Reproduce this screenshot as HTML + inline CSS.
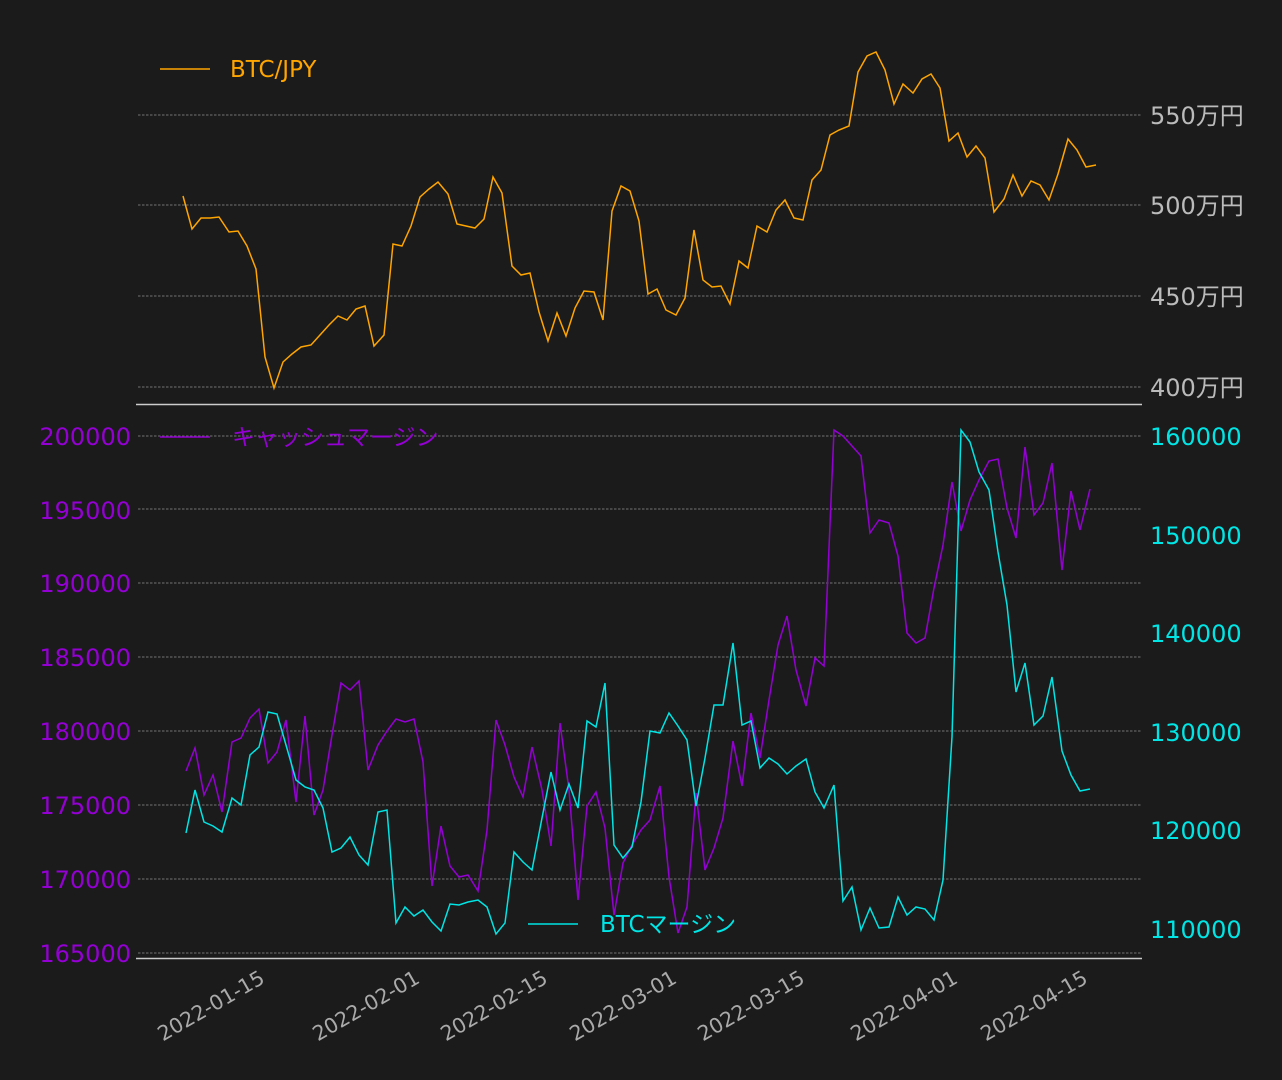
<!DOCTYPE html>
<html><head><meta charset="utf-8"><style>
html,body{margin:0;padding:0;background:#1b1b1b;}
svg{display:block;}
text{font-family:"DejaVu Sans","Noto Sans CJK JP",sans-serif;}
</style></head><body>
<svg width="1282" height="1080" viewBox="0 0 1282 1080" xmlns="http://www.w3.org/2000/svg">
<rect width="1282" height="1080" fill="#1b1b1b"/>
<g stroke="#cccccc" stroke-width="0.6" stroke-dasharray="2.5,1.5">
<line x1="138" y1="115" x2="1142" y2="115"/>
<line x1="138" y1="205" x2="1142" y2="205"/>
<line x1="138" y1="296" x2="1142" y2="296"/>
<line x1="138" y1="387" x2="1142" y2="387"/>
<line x1="138" y1="436" x2="1142" y2="436"/>
<line x1="138" y1="509" x2="1142" y2="509"/>
<line x1="138" y1="583" x2="1142" y2="583"/>
<line x1="138" y1="657" x2="1142" y2="657"/>
<line x1="138" y1="731" x2="1142" y2="731"/>
<line x1="138" y1="805" x2="1142" y2="805"/>
<line x1="138" y1="879" x2="1142" y2="879"/>
<line x1="138" y1="953" x2="1142" y2="953"/>
</g>
<line x1="136" y1="404.5" x2="1142" y2="404.5" stroke="#cccccc" stroke-width="1.5"/>
<line x1="136" y1="958.5" x2="1142" y2="958.5" stroke="#cccccc" stroke-width="1.5"/>
<g fill="#bbbbbb" font-size="24">
<text x="1150" y="124">550万円</text>
<text x="1150" y="214">500万円</text>
<text x="1150" y="305">450万円</text>
<text x="1150" y="396">400万円</text>
</g>
<g fill="#9400d3" font-size="24" text-anchor="end">
<text x="131" y="445">200000</text>
<text x="131" y="519">195000</text>
<text x="131" y="592">190000</text>
<text x="131" y="666">185000</text>
<text x="131" y="740">180000</text>
<text x="131" y="814">175000</text>
<text x="131" y="888">170000</text>
<text x="131" y="962">165000</text>
</g>
<g fill="#00e5e5" font-size="24">
<text x="1150" y="445">160000</text>
<text x="1150" y="544">150000</text>
<text x="1150" y="642">140000</text>
<text x="1150" y="741">130000</text>
<text x="1150" y="839">120000</text>
<text x="1150" y="938">110000</text>
</g>
<g fill="#aaaaaa" font-size="20.5" text-anchor="end">
<text transform="translate(266,982) rotate(-30)">2022-01-15</text>
<text transform="translate(421,982) rotate(-30)">2022-02-01</text>
<text transform="translate(549,982) rotate(-30)">2022-02-15</text>
<text transform="translate(678,982) rotate(-30)">2022-03-01</text>
<text transform="translate(806,982) rotate(-30)">2022-03-15</text>
<text transform="translate(959,982) rotate(-30)">2022-04-01</text>
<text transform="translate(1089,982) rotate(-30)">2022-04-15</text>
</g>
<polyline fill="none" stroke="#ffa500" stroke-width="1.5" points="183,196 192,229 201,218 210,218 219,217 229,232 238,231 247,246 256,269 265,357 274,388 283,362 292,354 301,347 311,345 320,335 329,325 338,316 347,320 356,309 365,306 374,346 384,335 393,244 402,246 411,226 420,197 429,189 438,182 448,194 457,224 466,226 475,228 484,219 493,177 502,193 512,266 521,275 530,273 539,312 548,341 557,313 566,336 575,308 584,291 594,292 603,320 612,211 621,186 630,191 639,221 648,294 657,289 666,310 676,315 685,298 694,230 703,280 712,287 721,286 730,304 739,261 748,268 757,226 767,232 776,210 785,200 794,218 803,220 812,180 821,170 830,135 839,130 849,126 858,72 867,56 876,52 885,70 894,104 903,84 913,93 922,79 931,74 940,88 949,141 958,133 967,157 976,146 985,158 994,212 1004,199 1013,175 1022,196 1031,181 1040,185 1049,200 1058,174 1068,139 1077,150 1086,167 1096,165"/>
<polyline fill="none" stroke="#9400d3" stroke-width="1.5" points="186,771 195,748 204,795 213,775 222,812 232,742 241,738 250,718 259,709 268,763 277,752 286,720 296,802 305,716 314,815 323,790 332,735 341,683 350,690 359,681 368,770 378,745 387,731 396,719 405,722 414,719 423,762 432,886 441,826 450,866 459,877 468,875 478,891 487,830 496,720 505,745 514,777 523,797 532,747 542,790 551,846 560,723 569,790 578,900 587,806 596,792 605,828 614,915 623,863 632,845 641,830 650,820 660,786 669,877 678,933 687,907 696,793 705,870 714,848 723,818 733,741 742,786 751,713 760,758 769,700 778,645 787,616 796,670 806,706 815,658 824,666 834,430 843,436 852,446 861,456 870,533 879,520 889,523 898,556 907,633 916,643 925,638 934,588 943,545 952,482 961,531 970,500 979,480 989,461 998,459 1007,508 1016,538 1025,447 1034,515 1043,503 1052,463 1062,570 1071,491 1080,530 1090,489"/>
<polyline fill="none" stroke="#00e5e5" stroke-width="1.5" points="186,833 195,790 204,822 213,826 222,832 232,798 241,805 250,755 259,747 268,712 277,714 286,745 296,780 305,787 314,790 323,808 332,852 341,848 350,837 359,855 368,865 378,812 387,810 396,923 405,907 414,916 423,910 432,922 441,931 450,904 459,905 468,902 478,900 487,907 496,934 505,923 514,852 523,862 532,870 542,818 551,772 560,810 569,784 578,808 587,721 596,727 605,683 614,845 623,858 632,847 641,802 650,731 660,733 669,713 678,726 687,740 696,806 705,758 714,705 723,705 733,643 742,725 751,721 760,768 769,758 778,764 787,774 796,766 806,759 815,792 824,808 834,785 843,901 852,887 861,930 870,908 879,928 889,927 898,897 907,915 916,907 925,909 934,920 943,880 952,737 961,430 970,442 979,472 989,490 998,552 1007,605 1016,692 1025,663 1034,725 1043,716 1052,677 1062,751 1071,775 1080,791 1090,789"/>
<line x1="160" y1="69" x2="210" y2="69" stroke="#ffa500" stroke-width="1.5"/>
<text x="230" y="77" fill="#ffa500" font-size="23">BTC/JPY</text>
<line x1="160" y1="437" x2="210" y2="437" stroke="#9400d3" stroke-width="1.5"/>
<text x="232" y="445" fill="#9400d3" font-size="23">キャッシュマージン</text>
<line x1="528" y1="924" x2="578" y2="924" stroke="#00e5e5" stroke-width="1.5"/>
<text x="600" y="932" fill="#00e5e5" font-size="23">BTCマージン</text>
</svg>
</body></html>
